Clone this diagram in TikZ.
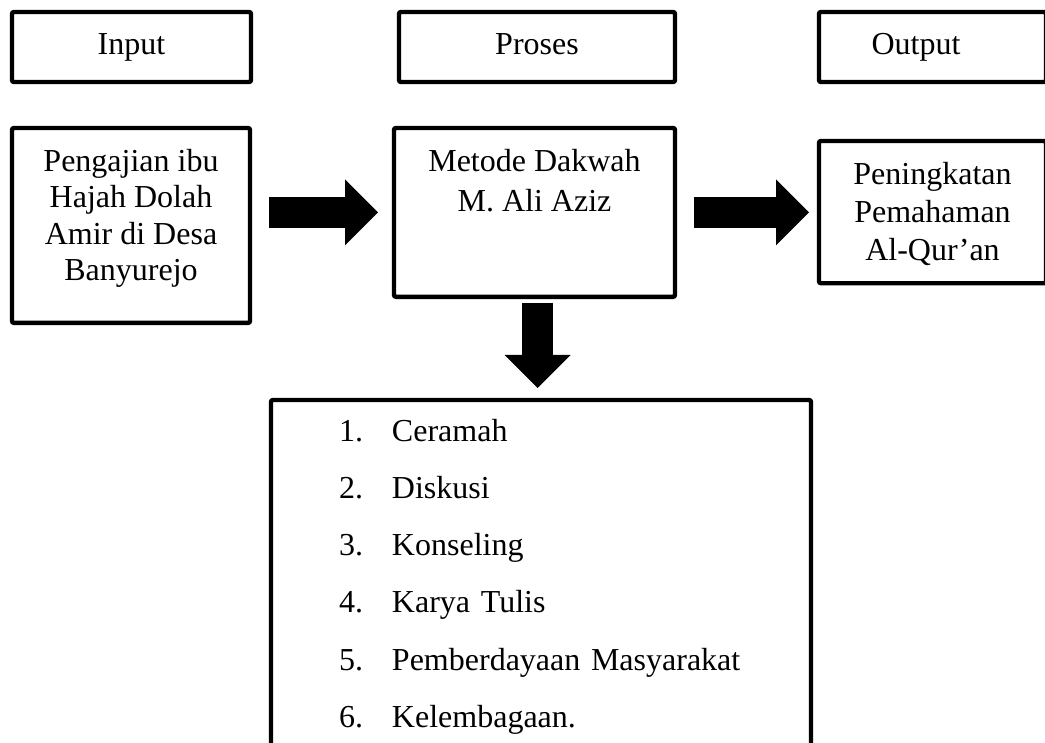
\documentclass[tikz,border=0pt]{standalone}
\usepackage{fontspec}
\setmainfont{Liberation Serif}
\usepackage{tikz}
\usetikzlibrary{arrows.meta,positioning}
\newcommand{\huruf}[1]{\fontsize{16pt}{#1}\selectfont}

\begin{document}
\begin{tikzpicture}[
  x=0.5pt, y=-0.5pt,
  kotak/.style={draw, line width=2.2pt, rounded corners=1pt, outer sep=0pt, inner sep=0pt, anchor=north west, align=center},
  judul/.style={kotak, font=\huruf{19pt}, minimum height=35pt, text height=11pt, text depth=3pt},
  isi/.style={kotak, inner ysep=10.5pt},
  daftar/.style={kotak, align=left, font=\huruf{28.6pt}, inner xsep=34pt, inner ysep=9.5pt, text width=202pt},
  panah/.style={line width=15.5pt, -{Triangle[length=16.5pt, width=33pt, line width=0pt]}},
]
\useasboundingbox (0,0) rectangle (1045,743);
\clip (0,0) rectangle (1045,743);
% baris judul
\node[judul, minimum width=119.5pt] (input) at (12,12) {Input};
\node[judul, minimum width=138pt] (proses) at (399,12) {Proses};
\node[judul, minimum width=113.5pt] (output) at (819,12) {Output\hspace{16.5pt}};
% kotak isi
\node[isi, font=\huruf{18.2pt}, minimum width=119pt, text depth=10.75pt] (pengajian) at (12,128)
  {Pengajian ibu\\Hajah Dolah\\Amir di Desa\\Banyurejo};
\node[isi, font=\huruf{20pt}, minimum width=140.5pt, text depth=32.3pt] (metode) at (394,128)
  {Metode Dakwah\\M. Ali Aziz};
\node[isi, font=\huruf{19pt}, minimum width=113.5pt, text depth=1pt] (peningkatan) at (819,141)
  {Peningkatan\\Pemahaman\\Al-Qur'an};
\node[daftar] (daftar) at (271,400)
  {\makebox[26.5pt][l]{1.}Ceramah\\
   \makebox[26.5pt][l]{2.}Diskusi\\
   \makebox[26.5pt][l]{3.}Konseling\\
   \makebox[26.5pt][l]{4.}Karya Tulis\\
   \makebox[26.5pt][l]{5.}Pemberdayaan Masyarakat\\
   \makebox[26.5pt][l]{6.}Kelembagaan.};
% panah
\draw[panah, shorten <=9.5pt, shorten >=8pt] (metode.west -| pengajian.east) -- (metode.west);
\draw[panah, shorten <=9.5pt, shorten >=5pt] (metode.east) -- (metode.east -| peningkatan.west);
\draw[panah, shorten <=3pt, shorten >=6pt] ([xshift=1.5pt]metode.south) -- ([xshift=1.5pt]metode.south |- daftar.north);
\end{tikzpicture}
\end{document}
